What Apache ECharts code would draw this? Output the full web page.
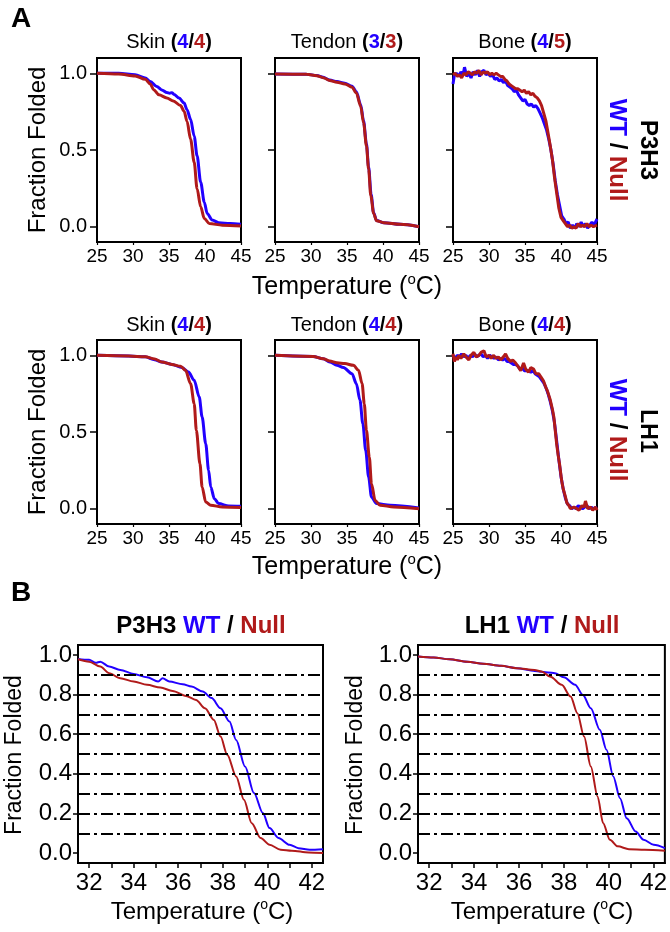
<!DOCTYPE html>
<html>
<head>
<meta charset="utf-8">
<script src="https://cdn.jsdelivr.net/npm/echarts@6/dist/echarts.min.js"></script>
<style>
  html, body { margin: 0; padding: 0; background: #fff; }
  #chart { width: 670px; height: 932px; }
</style>
</head>
<body>
<div id="chart"></div>
<script>
// ---- data: [temperature (°C), fraction folded] ----
const p3h3SkinWT = [[25,1.0],[28,1.0],[30.3,0.99],[31.7,0.97],[32.4,0.946],[33.3,0.914],[34,0.892],[34.7,0.875],[35.1,0.87],[35.4,0.874],[35.7,0.862],[36.4,0.839],[37.1,0.806],[37.5,0.763],[38,0.70],[38.5,0.59],[38.9,0.462],[39.4,0.29],[39.9,0.16],[40.3,0.086],[41,0.043],[41.9,0.026],[43.5,0.02],[45,0.015]];
const p3h3SkinNull = [[25,1.0],[28,0.995],[30.3,0.983],[31.7,0.961],[32.4,0.93],[32.9,0.892],[33.6,0.86],[34.7,0.839],[35.6,0.82],[36.6,0.79],[37.1,0.753],[37.5,0.688],[38,0.57],[38.5,0.42],[38.9,0.247],[39.4,0.13],[39.9,0.054],[40.6,0.02],[42.4,0.01],[45,0.005]];
const p3h3TendonWT = [[25,0.996],[29.4,0.994],[30.8,0.986],[31.7,0.974],[32.6,0.956],[33.6,0.946],[34.7,0.936],[35.7,0.916],[36.3,0.88],[36.9,0.795],[37.3,0.69],[37.7,0.54],[38.0,0.39],[38.35,0.21],[38.7,0.09],[39.1,0.04],[40.1,0.026],[42.4,0.015],[45,0.0]];
const p3h3TendonNull = [[25,0.996],[29.4,0.994],[30.8,0.985],[31.7,0.972],[32.6,0.953],[33.6,0.942],[34.7,0.931],[35.7,0.91],[36.3,0.871],[36.9,0.785],[37.3,0.677],[37.7,0.527],[38.0,0.376],[38.3,0.204],[38.7,0.086],[39.1,0.039],[40.1,0.026],[42.4,0.015],[45,0.0]];
const p3h3BoneWT = [[25.0,0.93],[25.2,0.99],[25.5,1.0],[25.8,0.98],[26.1,1.01],[26.4,0.99],[26.6,1.04],[26.9,0.98],[27.2,1.0],[27.5,0.97],[27.8,1.01],[28.1,0.99],[28.4,1.02],[28.7,0.98],[29.0,1.01],[29.3,1.02],[29.6,0.99],[29.9,1.0],[30.2,0.98],[30.5,0.99],[30.8,0.96],[31.1,0.97],[31.4,0.95],[31.7,0.96],[32.0,0.94],[32.3,0.95],[32.6,0.92],[32.9,0.91],[33.2,0.9],[33.5,0.88],[33.8,0.89],[34.1,0.86],[34.4,0.84],[34.7,0.82],[35.0,0.83],[35.3,0.8],[35.6,0.79],[35.9,0.8],[36.2,0.78],[36.5,0.79],[36.8,0.77],[37.1,0.74],[37.4,0.71],[37.7,0.67],[38.0,0.63],[38.3,0.57],[38.6,0.5],[38.9,0.41],[39.2,0.3],[39.5,0.21],[39.8,0.14],[40.1,0.07],[40.4,0.05],[40.7,0.02],[41.0,0.03],[41.3,-0.01],[41.6,0.01],[41.9,-0.01],[42.2,0.02],[42.5,0.0],[42.8,0.03],[43.1,0.0],[43.4,0.02],[43.7,-0.01],[44.0,0.01],[44.3,0.03],[44.6,0.01],[45.0,0.05]];
const p3h3BoneNull = [[25.0,0.99],[25.3,1.0],[25.6,0.98],[25.9,0.99],[26.2,0.97],[26.5,1.0],[26.8,0.99],[27.1,1.01],[27.4,1.0],[27.7,0.99],[28.0,1.01],[28.3,1.0],[28.6,1.02],[28.9,0.99],[29.2,1.01],[29.5,1.0],[29.8,1.01],[30.1,0.99],[30.4,1.0],[30.7,0.99],[31.0,1.0],[31.3,0.99],[31.6,0.98],[31.9,0.98],[32.2,0.96],[32.5,0.95],[32.8,0.93],[33.1,0.92],[33.4,0.91],[33.7,0.9],[34.0,0.9],[34.3,0.89],[34.6,0.88],[34.9,0.89],[35.2,0.87],[35.5,0.88],[35.8,0.86],[36.1,0.87],[36.4,0.85],[36.7,0.84],[37.0,0.82],[37.3,0.79],[37.6,0.74],[37.9,0.69],[38.2,0.61],[38.5,0.53],[38.8,0.44],[39.1,0.32],[39.4,0.22],[39.7,0.12],[40.0,0.06],[40.3,0.04],[40.6,0.02],[40.9,0.0],[41.2,0.01],[41.5,-0.01],[41.8,0.0],[42.1,-0.01],[42.4,0.02],[42.7,0.0],[43.0,0.01],[43.3,0.0],[43.6,0.02],[43.9,0.0],[44.2,0.01],[44.5,0.0],[45.0,0.01]];

const lh1SkinWT = [[25,1.0],[29.4,0.996],[31.7,0.99],[33,0.972],[34,0.957],[35.4,0.941],[36.8,0.92],[37.7,0.891],[38.5,0.837],[39.2,0.728],[39.6,0.598],[40.1,0.424],[40.5,0.25],[40.8,0.141],[41.3,0.065],[41.9,0.033],[43.3,0.017],[45,0.015]];
const lh1SkinNull = [[25,1.0],[29.4,0.996],[31.7,0.99],[33,0.976],[34,0.957],[35.4,0.941],[36.6,0.928],[37.3,0.902],[38,0.815],[38.5,0.685],[38.8,0.511],[39.3,0.293],[39.6,0.141],[40.1,0.043],[40.8,0.022],[42.4,0.011],[45,0.007]];
const lh1TendonWT = [[25,1.0],[30.3,0.993],[31.7,0.978],[32.6,0.957],[33.6,0.935],[34.5,0.92],[35.7,0.88],[36.3,0.815],[36.8,0.707],[37.2,0.554],[37.6,0.38],[38.0,0.207],[38.4,0.076],[39.1,0.033],[41,0.022],[45,0.004]];
const lh1TendonNull = [[25,1.0],[30.3,0.993],[31.7,0.978],[32.6,0.963],[33.6,0.952],[34.7,0.946],[35.9,0.935],[36.6,0.902],[37.1,0.815],[37.4,0.685],[37.7,0.511],[38.1,0.337],[38.4,0.163],[38.9,0.054],[39.6,0.022],[41.5,0.011],[45,0.0]];
const lh1BoneWT = [[25.0,1.0],[25.3,0.98],[25.6,1.0],[25.9,0.99],[26.2,1.01],[26.5,0.99],[26.8,1.0],[27.1,0.98],[27.4,1.0],[27.7,0.99],[28.0,1.01],[28.3,0.99],[28.6,1.0],[28.9,1.01],[29.2,0.99],[29.5,1.0],[29.8,0.98],[30.1,1.0],[30.4,0.99],[30.7,0.98],[31.0,0.99],[31.3,0.97],[31.6,0.98],[31.9,0.97],[32.2,0.98],[32.5,0.96],[32.8,0.96],[33.1,0.95],[33.4,0.94],[33.7,0.94],[34.0,0.93],[34.3,0.91],[34.6,0.92],[34.9,0.9],[35.2,0.9],[35.5,0.9],[35.8,0.89],[36.1,0.9],[36.4,0.88],[36.7,0.87],[37.0,0.86],[37.3,0.84],[37.6,0.82],[37.9,0.79],[38.2,0.75],[38.5,0.7],[38.8,0.64],[39.1,0.56],[39.4,0.44],[39.7,0.32],[40.0,0.21],[40.3,0.13],[40.6,0.07],[40.9,0.03],[41.2,0.02],[41.5,0.0],[41.8,0.01],[42.1,0.0],[42.4,0.02],[42.7,0.01],[43.0,0.0],[43.3,0.01],[43.6,0.02],[43.9,0.0],[44.2,0.01],[44.5,0.0],[45.0,0.01]];
const lh1BoneNull = [[25.0,1.01],[25.2,0.96],[25.4,0.99],[25.6,0.97],[25.8,1.0],[26.1,0.98],[26.5,1.01],[26.8,0.99],[27.2,0.97],[27.5,1.0],[27.9,1.02],[28.2,0.99],[28.6,1.0],[28.9,1.02],[29.3,1.03],[29.6,0.99],[30.0,1.0],[30.3,0.98],[30.6,1.0],[31.0,0.98],[31.3,0.99],[31.6,0.97],[32.0,0.99],[32.3,1.01],[32.6,0.98],[33.0,0.96],[33.3,0.97],[33.7,0.95],[34.0,0.93],[34.4,0.9],[34.8,0.95],[35.1,0.91],[35.5,0.89],[35.8,0.92],[36.2,0.91],[36.5,0.88],[36.9,0.88],[37.2,0.86],[37.6,0.83],[37.9,0.79],[38.1,0.77],[38.5,0.71],[38.8,0.65],[39.0,0.6],[39.2,0.51],[39.4,0.42],[39.6,0.35],[39.8,0.29],[40.1,0.18],[40.3,0.13],[40.6,0.08],[40.8,0.04],[41.1,0.02],[41.3,0.0],[41.5,-0.01],[41.8,0.01],[42.2,0.0],[42.5,-0.01],[42.9,0.02],[43.2,0.01],[43.4,0.05],[43.7,0.0],[44.1,0.01],[44.4,-0.01],[44.8,0.01],[45.0,-0.01]];

const p3h3ZoomWT = [[31.5,0.98],[32.0,0.975],[32.3,0.96],[32.5,0.966],[32.9,0.941],[33.4,0.924],[34.0,0.904],[34.6,0.887],[35.1,0.866],[35.3,0.882],[35.6,0.866],[36.2,0.852],[36.6,0.84],[37.1,0.815],[37.5,0.782],[37.9,0.731],[38.3,0.664],[38.6,0.571],[39.0,0.437],[39.4,0.303],[39.8,0.202],[40.1,0.126],[40.5,0.076],[41.0,0.042],[41.4,0.025],[41.9,0.017],[42.5,0.02]];
const p3h3ZoomNull = [[31.5,0.978],[32.0,0.966],[32.5,0.941],[32.9,0.908],[33.4,0.882],[34.0,0.866],[34.6,0.849],[35.2,0.835],[35.75,0.818],[36.35,0.793],[36.8,0.773],[37.2,0.731],[37.6,0.672],[37.9,0.588],[38.2,0.496],[38.6,0.387],[38.95,0.269],[39.3,0.151],[39.7,0.076],[40.1,0.042],[40.6,0.017],[41.1,0.012],[41.85,0.003],[42.5,0.0]];
const lh1ZoomWT = [[31.5,0.992],[32.2,0.987],[32.9,0.978],[33.7,0.966],[34.4,0.955],[35.2,0.945],[35.9,0.933],[36.7,0.919],[37.3,0.911],[37.6,0.908],[38.0,0.887],[38.5,0.849],[38.85,0.798],[39.2,0.731],[39.6,0.622],[39.9,0.521],[40.2,0.387],[40.5,0.277],[40.8,0.176],[41.2,0.109],[41.55,0.067],[42.0,0.042],[42.5,0.025]];
const lh1ZoomNull = [[31.5,0.992],[32.2,0.987],[32.9,0.978],[33.7,0.966],[34.4,0.955],[35.2,0.945],[35.9,0.933],[36.7,0.924],[37.0,0.916],[37.4,0.89],[37.9,0.849],[38.3,0.79],[38.6,0.706],[38.9,0.588],[39.2,0.437],[39.5,0.286],[39.75,0.151],[40.05,0.067],[40.4,0.034],[40.9,0.02],[41.6,0.017],[42.5,0.012]];

const tissueTitles = ['Skin', 'Tendon', 'Bone'];
const p3h3Counts = [[4, 4], [3, 3], [4, 5]];
const lh1Counts = [[4, 4], [4, 4], [4, 4]];
const guideLevels = [0.1, 0.2, 0.3, 0.4, 0.5, 0.6, 0.7, 0.8, 0.9];
const ticksA = [0, 0.5, 1];
const ticksB = [0, 0.2, 0.4, 0.6, 0.8, 1.0];
const tempTicksB = [32, 33, 34, 35, 36, 37, 38, 39, 40, 41, 42];
const tempLabelsB = [32, 34, 36, 38, 40, 42];

const BLUE = '#2200ff';
const RED = '#b01a1a';
const FONT = 'Liberation Sans, Arial, sans-serif';

const chart = echarts.init(document.getElementById('chart'));

const gridsA = [[97, 58], [275, 58], [453, 58], [97, 340], [275, 340], [453, 340]];
const grid = gridsA.map(g => ({left: g[0], top: g[1], width: 144, height: 184,
  show: true, borderColor: '#000', borderWidth: 2}));
grid.push({left: 78, top: 645, width: 245, height: 218, show: true, borderColor: '#000', borderWidth: 2});
grid.push({left: 418, top: 645, width: 247, height: 218, show: true, borderColor: '#000', borderWidth: 2});

const xAxis = [], yAxis = [], series = [];
const lineAx = {onZero: false, lineStyle: {color: '#000', width: 2}};

for (let i = 0; i < 6; i++) {
    xAxis.push({gridIndex: i, type: 'value', min: 25, max: 45, interval: 5,
        axisLine: lineAx, axisTick: {length: 3, lineStyle: {color: '#000', width: 1.2}},
        axisLabel: {color: '#000', fontSize: 19, fontFamily: FONT, margin: 5},
        splitLine: {show: false}});
    yAxis.push({gridIndex: i, type: 'value', min: -0.1, max: 1.1,
        axisLine: lineAx,
        axisTick: {customValues: ticksA, length: 7, lineStyle: {color: '#000', width: 1.5}},
        axisLabel: {show: i % 3 === 0, customValues: ticksA, formatter: v => v.toFixed(1),
            color: '#000', fontSize: 20, fontFamily: FONT, margin: 10},
        splitLine: {show: false}});
}
for (let i = 6; i < 8; i++) {
    xAxis.push({gridIndex: i, type: 'value', min: 31.5, max: 42.5,
        axisLine: lineAx,
        axisTick: {customValues: tempTicksB, length: 5, lineStyle: {color: '#000', width: 1.5}},
        axisLabel: {customValues: tempLabelsB, color: '#000', fontSize: 24, fontFamily: FONT, margin: 8},
        splitLine: {show: false}});
    yAxis.push({gridIndex: i, type: 'value', min: -0.05, max: 1.05,
        axisLine: lineAx,
        axisTick: {customValues: ticksB, length: 5, lineStyle: {color: '#000', width: 1.5}},
        axisLabel: {customValues: ticksB, formatter: v => v.toFixed(1),
            color: '#000', fontSize: 24, fontFamily: FONT, margin: 6},
        splitLine: {show: false}});
}

function addLine(idx, data, color, width, smooth) {
    series.push({type: 'line', xAxisIndex: idx, yAxisIndex: idx, data: data,
        showSymbol: false, smooth: smooth ? 0.3 : false, smoothMonotone: 'x',
        lineStyle: {color: color, width: width}, z: 3});
}

const panelData = [
    [p3h3SkinWT, p3h3SkinNull, true], [p3h3TendonWT, p3h3TendonNull, true], [p3h3BoneWT, p3h3BoneNull, false],
    [lh1SkinWT, lh1SkinNull, true], [lh1TendonWT, lh1TendonNull, true], [lh1BoneWT, lh1BoneNull, false]
];
panelData.forEach((p, i) => {
    addLine(i, p[0], BLUE, 3, p[2]);
    addLine(i, p[1], RED, 3, p[2]);
});

[6, 7].forEach(i => {
    series.push({type: 'line', xAxisIndex: i, yAxisIndex: i, data: [], z: 1,
        markLine: {silent: true, symbol: 'none', label: {show: false},
            lineStyle: {color: '#000', width: 1.8, type: [12, 4, 3, 4]},
            data: guideLevels.map(v => ({yAxis: v}))}});
});
addLine(6, p3h3ZoomWT, BLUE, 2, true);
addLine(6, p3h3ZoomNull, RED, 2, true);
addLine(7, lh1ZoomWT, BLUE, 2, true);
addLine(7, lh1ZoomNull, RED, 2, true);

// ---- texts ----
const titleRich = {
    n: {fontSize: 20, fontFamily: FONT, fill: '#000'},
    b: {fontSize: 20, fontFamily: FONT, fontWeight: 'bold', fill: '#000'},
    w: {fontSize: 20, fontFamily: FONT, fontWeight: 'bold', fill: BLUE},
    m: {fontSize: 20, fontFamily: FONT, fontWeight: 'bold', fill: RED}
};
const tempRich = size => ({
    a: {fontSize: size, fontFamily: FONT, fill: '#000', lineHeight: size + 4},
    s: {fontSize: Math.round(size * 0.6), fontFamily: FONT, fill: '#000', verticalAlign: 'top', lineHeight: size + 4}
});
const tempText = '{a|Temperature (}{s|o}{a|C)}';

const graphic = [];
function txt(x, y, text, opts) {
    graphic.push(Object.assign({type: 'text', x: x, y: y,
        style: Object.assign({text: text, fill: '#000', align: 'center', verticalAlign: 'middle'}, opts.style)},
        opts.extra || {}));
}

txt(21, 19, 'A', {style: {font: 'bold 28px ' + FONT}});
txt(21, 593, 'B', {style: {font: 'bold 28px ' + FONT}});

[[p3h3Counts, 42], [lh1Counts, 325]].forEach(([counts, y]) => {
    counts.forEach((c, j) => {
        const cx = gridsA[j][0] + 72;
        txt(cx, y, '{n|' + tissueTitles[j] + ' }{b|(}{w|' + c[0] + '}{b|/}{m|' + c[1] + '}{b|)}', {style: {rich: titleRich}});
    });
});

txt(38, 150, 'Fraction Folded', {style: {font: '24px ' + FONT}, extra: {rotation: Math.PI / 2}});
txt(38, 432, 'Fraction Folded', {style: {font: '24px ' + FONT}, extra: {rotation: Math.PI / 2}});
txt(15, 755, 'Fraction Folded', {style: {font: '23px ' + FONT}, extra: {rotation: Math.PI / 2}});
txt(356, 755, 'Fraction Folded', {style: {font: '23px ' + FONT}, extra: {rotation: Math.PI / 2}});

txt(347, 287, tempText, {style: {rich: tempRich(25)}});
txt(347, 567, tempText, {style: {rich: tempRich(25)}});
txt(202, 912, tempText, {style: {rich: tempRich(24)}});
txt(542, 912, tempText, {style: {rich: tempRich(24)}});

const wtRich = size => ({
    w: {fontSize: size, fontFamily: FONT, fontWeight: 'bold', fill: BLUE},
    b: {fontSize: size, fontFamily: FONT, fontWeight: 'bold', fill: '#000'},
    m: {fontSize: size, fontFamily: FONT, fontWeight: 'bold', fill: RED}
});
txt(617, 150, '{w|WT}{b| / }{m|Null}', {style: {rich: wtRich(24)}, extra: {rotation: -Math.PI / 2}});
txt(617, 430, '{w|WT}{b| / }{m|Null}', {style: {rich: wtRich(24)}, extra: {rotation: -Math.PI / 2}});
txt(648, 150, 'P3H3', {style: {font: 'bold 24px ' + FONT}, extra: {rotation: -Math.PI / 2}});
txt(647, 431, 'LH1', {style: {font: 'bold 23px ' + FONT}, extra: {rotation: -Math.PI / 2}});

txt(201, 626, '{b|P3H3 }{w|WT}{b| / }{m|Null}', {style: {rich: wtRich(24)}});
txt(542, 626, '{b|LH1 }{w|WT}{b| / }{m|Null}', {style: {rich: wtRich(24)}});

chart.setOption({
    animation: false,
    backgroundColor: '#fff',
    grid: grid,
    xAxis: xAxis,
    yAxis: yAxis,
    series: series,
    graphic: graphic
});
window.addEventListener('resize', chart.resize);
</script>
</body>
</html>
